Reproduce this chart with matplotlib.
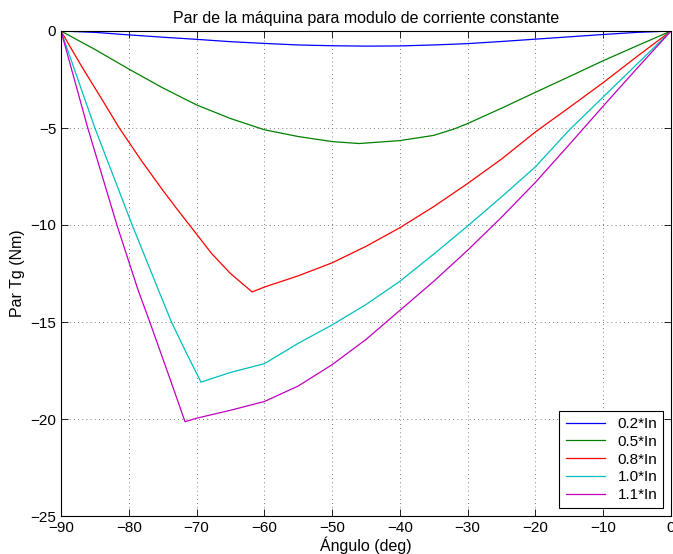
import numpy as np
import matplotlib
matplotlib.use('Agg')
import matplotlib.pyplot as plt

plt.rcParams['font.family'] = ['Liberation Sans', 'DejaVu Sans']

# datos (angulo en grados, par en Nm)
x_02 = [-90, -85, -80, -75, -70, -65, -60, -55, -50, -45, -40, -35, -30, -25, -20, -15, -10, -5, 0]
y_02 = [0, -0.07, -0.2, -0.32, -0.43, -0.55, -0.64, -0.72, -0.76, -0.78, -0.77, -0.72, -0.65, -0.54, -0.42, -0.3, -0.18, -0.07, 0]

x_05 = [-90, -85, -80, -75, -70, -65, -60, -55, -50, -46, -40, -35, -32, -30, -25, -20, -15, -10, -5, 0]
y_05 = [0, -0.95, -1.96, -2.93, -3.81, -4.51, -5.09, -5.44, -5.70, -5.80, -5.65, -5.38, -5.05, -4.77, -3.98, -3.16, -2.35, -1.53, -0.76, 0]

x_08 = [-90, -87, -84, -81.4, -78, -75, -72.9, -70, -67.8, -65, -61.8, -60, -55, -50, -45, -40, -35, -30, -25, -20, -15, -10, -5, 0]
y_08 = [0, -1.8, -3.5, -5.0, -6.75, -8.2, -9.17, -10.47, -11.46, -12.5, -13.45, -13.2, -12.62, -11.95, -11.1, -10.14, -9.05, -7.86, -6.6, -5.2, -3.94, -2.66, -1.31, 0]

x_10 = [-90, -85, -79.5, -75.65, -73.7, -71.5, -69.35, -65, -60, -55, -50, -45, -40, -35, -30, -25, -20, -15, -10, -5, 0]
y_10 = [0, -5.0, -10.0, -13.33, -15.0, -16.6, -18.1, -17.6, -17.15, -16.1, -15.15, -14.1, -12.9, -11.5, -10.05, -8.55, -7.0, -5.1, -3.4, -1.7, 0]

x_11 = [-90, -86.05, -81.75, -78.65, -76.9, -74, -71.7, -70, -65, -60, -55, -50, -45, -40, -35, -30, -25, -20, -15, -10, -5, 0]
y_11 = [0, -5.0, -10.0, -13.33, -15.0, -17.85, -20.14, -19.96, -19.55, -19.1, -18.3, -17.2, -15.9, -14.4, -12.9, -11.3, -9.6, -7.8, -5.85, -3.87, -1.92, 0]

etiquetas = ['0.2*In', '0.5*In', '0.8*In', '1.0*In', '1.1*In']
colores = ['#0000ff', '#008000', '#ff0000', '#00bfbf', '#bf00bf']

fig = plt.figure(figsize=(6.73, 5.54), dpi=100)
ax = fig.add_axes([61/673, 38/554, 610/673, 485/554])

series = [(x_02, y_02), (x_05, y_05), (x_08, y_08), (x_10, y_10), (x_11, y_11)]
for (xs, ys), lab, col in zip(series, etiquetas, colores):
    ax.plot(xs, ys, color=col, label=lab, linewidth=0.9)

ax.set_xlim(-90, 0)
ax.set_ylim(-25, 0)
ax.set_xticks(np.arange(-90, 1, 10))
ax.set_yticks(np.arange(-25, 1, 5))
ax.grid(True, linestyle=(0, (1, 4)), color='#555555', linewidth=0.6)
ax.tick_params(direction='in', top=True, right=True, length=5, width=0.6, labelsize=11)
for s in ax.spines.values():
    s.set_linewidth(0.8)

ax.set_title('Par de la máquina para modulo de corriente constante', fontsize=11.5, pad=6)
ax.set_xlabel('Ángulo (deg)', fontsize=11.5, labelpad=1)
ax.set_ylabel('Par Tg (Nm)', fontsize=11.5, labelpad=4)

leg = ax.legend(loc='lower right', fontsize=11, fancybox=False, framealpha=1,
                edgecolor='black', borderaxespad=0.5, handlelength=2.6, labelspacing=0.25)
leg.get_frame().set_linewidth(0.8)

plt.savefig('out.png', dpi=100)
